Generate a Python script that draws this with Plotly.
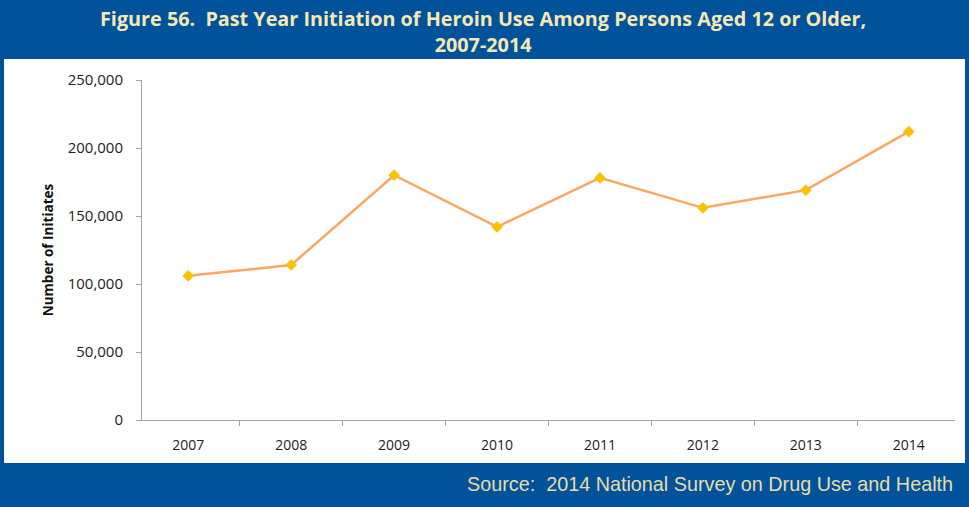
import plotly.graph_objects as go

years = ["2007", "2008", "2009", "2010", "2011", "2012", "2013", "2014"]
initiates = [106000, 114000, 180000, 142000, 178000, 156000, 169000, 212000]
y_ticks = [0, 50000, 100000, 150000, 200000, 250000]

BLUE = "#00539B"
W, H = 969, 507
L, R, T, B = 142, 14, 80, 87
pw, ph = W - L - R, H - T - B
def px(x): return (x - L) / pw
def py(y): return (H - B - y) / ph

fig = go.Figure()
fig.add_trace(go.Scatter(
    x=years, y=initiates, mode="lines+markers",
    line=dict(color="#F8A862", width=2.5),
    marker=dict(symbol="diamond", size=9, color="#FFC000"),
    showlegend=False, cliponaxis=False,
))

shapes = [
    dict(type="rect", xref="paper", yref="paper", x0=px(0), x1=px(W), y0=py(59), y1=py(0),
         fillcolor=BLUE, line_width=0, layer="below"),
    dict(type="rect", xref="paper", yref="paper", x0=px(0), x1=px(W), y0=py(H), y1=py(463),
         fillcolor=BLUE, line_width=0, layer="below"),
    dict(type="rect", xref="paper", yref="paper", x0=px(0), x1=px(4), y0=py(H), y1=py(0),
         fillcolor=BLUE, line_width=0, layer="below"),
    dict(type="rect", xref="paper", yref="paper", x0=px(W - 4), x1=px(W), y0=py(H), y1=py(0),
         fillcolor=BLUE, line_width=0, layer="below"),
]

annotations = [
    dict(text="<b>Figure 56.  Past Year Initiation of Heroin Use Among Persons Aged 12 or Older,<br>2007-2014</b>",
         xref="paper", yref="paper", x=px(483), y=py(31), xanchor="center", yanchor="middle",
         showarrow=False, font=dict(family="Open Sans, sans-serif", size=19.8, color="#F7E8B2"),
         align="center"),
    dict(text="Source:  2014 National Survey on Drug Use and Health",
         xref="paper", yref="paper", x=px(955), y=py(484), xanchor="right", yanchor="middle",
         showarrow=False, font=dict(family="Liberation Sans, Arial, sans-serif", size=19.8, color="#EADBAA")),
]

fig.update_layout(
    width=W, height=H,
    margin=dict(l=L, r=R, t=T, b=B),
    paper_bgcolor="white", plot_bgcolor="white",
    shapes=shapes, annotations=annotations,
    xaxis=dict(type="category", showgrid=False, showline=True, linecolor="#A6A6A6", linewidth=1,
               ticks="outside", tickson="boundaries", ticklen=5, tickcolor="#A6A6A6",
               ticklabelstandoff=12,
               tickfont=dict(family="Open Sans, sans-serif", size=14, color="#222222")),
    yaxis=dict(range=[0, 250000], tickvals=y_ticks, tickformat=",", showgrid=False, zeroline=False,
               showline=True, linecolor="#A6A6A6", linewidth=1, ticks="outside", ticklen=5,
               tickcolor="#A6A6A6", ticklabelstandoff=10,
               tickfont=dict(family="Open Sans, sans-serif", size=15, color="#222222"),
               title=dict(text="<b>Number of Initiates</b>", standoff=10,
                          font=dict(family="Open Sans, sans-serif", size=13.5, color="#111111"))),
)

fig.write_html("out.html")
